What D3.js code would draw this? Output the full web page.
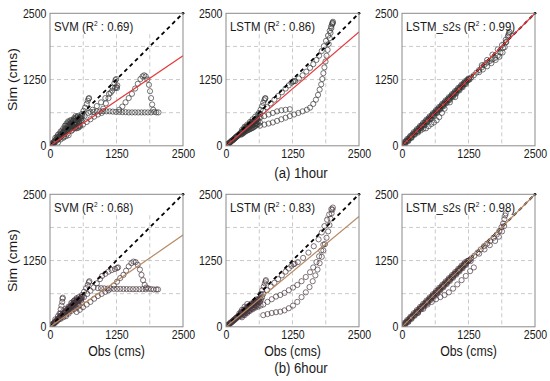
<!DOCTYPE html>
<html>
<head>
<meta charset="utf-8">
<script src="https://cdn.jsdelivr.net/npm/d3@7"></script>
<style>
  body { margin: 0; background: #fff; }
  svg { display: block; font-family: "Liberation Sans", Arial, sans-serif; }
</style>
</head>
<body>
<div id="chart"></div>
<script>
// obs vs sim scatter, 2 rows (1hour / 6hour) x 3 models

const modelNames = ["SVM", "LSTM", "LSTM_s2s", "SVM", "LSTM", "LSTM_s2s"];
const r2Values = ["0.69", "0.86", "0.99", "0.68", "0.83", "0.98"];
const fitEnds = [1700, 2150, 2500, 1730, 2080, 2500]; // fitted line value at obs = 2500
const tickValues = [0, 1250, 2500];
const gridValues = [625, 1250, 1875];
const rowCaptions = ["(a) 1hour", "(b) 6hour"];

// [obs, sim] pairs
const svm1h = [
  [15,10],[30,35],[45,25],[60,65],[75,50],[90,100],[105,80],[120,130],[135,105],[150,160],[165,135],[180,190],
  [195,160],[210,225],[225,190],[240,255],[255,215],[270,290],[285,245],[300,320],[315,270],[330,350],[345,295],
  [360,380],[375,320],[390,410],[405,345],[420,440],[435,370],[450,470],[470,400],[490,490],[510,420],[530,520],
  [550,450],[570,540],[590,480],[610,560],[250,330],[280,380],[310,420],[340,460],[380,480],[200,120],[260,170],
  [330,230],[400,280],[470,330],[530,340],[560,380],[520,470],[350,400],
  [20,40],[50,30],[80,70],[110,110],[140,130],[170,170],[200,200],[230,210],[260,250],[290,280],[320,300],
  [350,330],[380,360],[410,380],[440,420],[470,450],[500,480],[530,500],[560,530],[590,560],[400,440],[430,480],
  [460,500],[490,530],[520,560],[380,330],[420,350],[460,390],[500,400],[540,440],
  [100,150],[150,210],[200,270],[250,260],[300,380],[350,440],[400,480],[450,520],[480,560],[300,180],[350,200],
  [420,300],[480,350],[540,380],[150,60],[250,150],[560,500],[590,520],[520,550],[450,350],[380,420],[330,380],
  [280,320],[230,290],[180,230],[130,170],
  [600,600],[630,660],[660,720],[690,790],[710,850],[725,890],[735,900],
  [650,560],[720,620],[800,680],[880,750],[960,820],[1040,900],[1110,980],[1170,1040],[1220,1090],[1250,1110],
  [1265,1140],[1260,1090],
  [1000,700],[1050,800],[1100,900],[1140,1000],[1180,1100],[1210,1180],[1230,1240],[1245,1260],
  [1300,680],[1360,740],[1420,820],[1480,900],[1540,980],[1600,1080],[1650,1170],[1700,1260],[1740,1310],
  [1770,1330],[1800,1310],[1830,1250],[1860,1150],[1880,1030],[1900,900],[1920,780],[1940,680],[1960,640],
  [2000,630],[2040,630],
  [760,640],[820,640],[880,650],[940,650],[1000,655],[1060,650],[1120,650],[1180,645],[1240,640],[1300,640],
  [1360,635],[1420,635],[1480,630],[1540,630],[1600,630],[1660,630],[1720,630],[1780,630],[1840,630],[1900,630],
  [500,330],[560,360],[620,400],[690,450],[760,500],[830,550],[900,590],[970,620]
];
const lstm1h = [
  [15,10],[30,30],[45,35],[60,55],[75,60],[90,80],[105,90],[120,105],[135,110],[150,130],[165,140],[180,160],
  [195,165],[210,185],[225,190],[240,210],[255,220],[270,240],[285,245],[300,265],[315,270],[330,290],[345,300],
  [360,320],[375,330],[390,350],[405,355],[420,375],[435,385],[450,400],[465,410],[480,425],[500,440],[520,460],
  [540,480],[560,500],[580,520],[300,220],[340,250],[380,280],[420,300],[460,320],[500,340],[540,370],[580,400],
  [350,360],[400,400],[450,450],[500,500],[550,550],[600,590],
  [20,20],[50,45],[80,70],[110,95],[140,120],[170,145],[200,175],[230,200],[260,225],[290,255],[320,280],
  [350,310],[380,340],[410,360],[440,390],[470,415],[500,420],[530,450],[560,470],[590,500],[330,260],[370,300],
  [410,330],[450,350],[490,380],[530,400],[570,430],
  [280,210],[320,240],[360,270],[400,290],[440,310],[480,330],[520,350],[560,380],[600,410],[640,440],[300,300],
  [340,330],[380,360],[420,390],[460,430],[500,460],[540,490],[580,510],[620,540],[400,330],[450,370],[500,390],
  [550,420],[600,460],
  [620,620],[650,680],[680,750],[700,810],[720,860],[735,890],[740,900],
  [640,600],[700,660],[770,730],[840,800],[910,870],[980,940],[1050,1010],[1120,1080],[1180,1140],[1230,1190],
  [1260,1210],[1275,1220],
  [650,540],[720,560],[800,590],[880,620],[960,650],[1040,670],[1120,680],[1200,690],
  [640,380],[720,400],[800,420],[880,440],[960,470],[1040,500],[1120,530],[1200,560],[1280,590],[1360,620],
  [1440,650],[1520,680],[1580,720],[1640,790],[1690,870],[1730,960],[1760,1060],[1790,1160],[1810,1260],
  [1830,1370],[1850,1480],[1870,1590],[1890,1700],[1910,1810],[1930,1920],[1950,2030],[1965,2130],[1980,2220],
  [1995,2290],[2005,2320],[2010,2340],
  [1300,1220],[1370,1270],[1440,1330],[1510,1400],[1580,1470],[1640,1540],[1700,1620],[1750,1700],[1800,1790],
  [1840,1880],[1880,1980],[1920,2080],[1950,2170],[1975,2250],[2000,2310]
];
const s2s1h = [
  [10,10],[40,35],[70,75],[100,95],[130,135],[160,155],[190,195],[220,215],[250,255],[280,275],[310,315],
  [340,335],[370,375],[400,390],[430,435],[460,450],[490,495],[520,510],[550,555],[580,570],[610,615],[640,630],
  [670,675],[700,690],[730,735],[760,750],[790,795],[820,810],[850,855],[880,870],[910,915],[940,930],[970,975],
  [1000,990],[1030,1035],[1060,1050],[1090,1095],[1120,1110],[1150,1155],[1180,1170],[1210,1215],[1240,1235],
  [1260,1260],[1270,1250],
  [25,40],[55,45],[85,100],[115,105],[145,165],[175,160],[205,225],[235,225],[265,285],[295,280],[325,345],
  [355,350],[385,405],[415,400],[445,465],[475,470],[505,525],[535,520],[565,585],[595,590],[625,645],[655,650],
  [685,705],[715,710],[745,765],[775,770],[805,825],[835,830],[865,885],[895,890],[925,945],[955,950],[985,1005],
  [1015,1010],[1045,1065],[1075,1070],[1105,1125],[1135,1130],[1165,1185],[1195,1190],[1225,1245],[1250,1270],
  [60,30],[120,90],[180,150],[240,210],[300,270],[360,330],[420,385],[480,445],[540,505],[600,565],[660,625],
  [720,685],[780,745],[840,805],[900,865],[960,925],[1020,985],[1080,1045],[1140,1105],[1200,1165],
  [40,70],[100,130],[160,190],[220,255],[280,315],[340,375],[400,435],[460,495],[520,555],[580,615],[640,675],
  [700,735],[760,795],[820,855],[880,915],[940,975],[1000,1035],[1060,1095],[1120,1155],[1180,1215],
  [300,250],[350,290],[400,320],[450,330],[500,370],[550,410],[600,440],[650,480],[700,540],[750,620],[800,700],
  [900,820],[1000,920],
  [1300,1290],[1350,1330],[1400,1380],[1450,1430],[1500,1480],[1550,1530],[1600,1570],[1650,1600],[1700,1630],
  [1750,1660],[1800,1700],[1850,1760],[1900,1850],[1950,1950],[1990,2060],[2010,2120],[2020,2150],
  [1450,1390],[1520,1440],[1600,1500],[1680,1560],[1760,1620],[1830,1680],[1890,1760],[1930,1860],[1960,1960],
  [1500,1520],[1600,1620],[1700,1720],[1800,1820],[1880,1900],[1950,2000],[2000,2090]
];
const svm6h = [
  [15,10],[30,35],[45,30],[60,60],[75,55],[90,90],[105,85],[120,120],[135,110],[150,150],[165,140],[180,180],
  [195,170],[210,210],[225,200],[240,240],[255,230],[270,270],[285,260],[300,300],[315,290],[330,330],[345,320],
  [360,360],[375,350],[390,390],[405,380],[420,420],[435,410],[450,450],[470,440],[490,480],[510,470],[530,510],
  [550,500],[570,540],[590,530],[610,570],[180,250],[200,330],[215,400],[230,470],[235,530],[240,550],[300,200],
  [350,250],[400,300],[450,330],[500,360],[550,400],[600,450],
  [20,40],[50,35],[80,80],[110,100],[140,140],[170,160],[200,210],[230,220],[260,260],[290,280],[320,320],
  [350,340],[380,380],[410,400],[440,440],[470,460],[500,500],[530,490],[560,530],[590,560],[420,460],[460,500],
  [500,540],[380,320],[430,360],[480,400],[530,430],
  [100,140],[150,200],[200,250],[250,290],[300,340],[350,380],[400,450],[450,490],[500,520],[540,560],[580,500],
  [300,230],[350,280],[400,330],[450,380],[500,420],[200,150],[250,180],
  [600,600],[640,660],[680,730],[710,790],[730,840],[740,860],
  [640,560],[700,620],[760,680],[820,740],[880,820],[940,900],[980,960],[1040,1000],[1100,1040],[1160,1070],
  [1220,1090],[1260,1110],[1280,1120],
  [1140,720],[1200,780],[1260,850],[1320,920],[1380,980],[1430,1060],[1480,1140],[1530,1200],[1570,1230],
  [1610,1220],[1650,1170],[1690,1080],[1720,980],[1750,880],[1780,790],[1810,740],[1850,720],[1900,710],
  [1950,705],[2000,705],[2030,705],
  [900,730],[960,730],[1020,725],[1080,720],[1200,715],[1260,715],[1320,715],[1380,712],[1440,712],[1500,710],
  [1560,710],[1620,710],[1680,710],[1740,710],[1800,708],
  [500,280],[560,320],[620,370],[690,420],[760,470],[830,530],[900,580],[970,620],[1040,660],[1100,690]
];
const lstm6h = [
  [15,10],[30,30],[45,30],[60,55],[75,55],[90,80],[105,85],[120,105],[135,110],[150,130],[165,135],[180,160],
  [195,160],[210,185],[225,185],[240,210],[255,210],[270,240],[285,235],[300,265],[315,260],[330,290],[345,285],
  [360,320],[375,310],[390,350],[405,335],[420,375],[435,360],[450,400],[465,385],[480,425],[500,410],[520,450],
  [540,430],[560,480],[580,460],[600,510],[620,490],[640,540],[660,520],[680,560],[300,180],[350,220],[400,260],
  [450,300],[500,330],[550,360],[600,380],[650,400],[250,250],[300,320],[350,380],[400,430],
  [20,25],[50,40],[80,75],[110,90],[140,125],[170,145],[200,175],[230,200],[260,225],[290,250],[320,275],
  [350,300],[380,330],[410,355],[440,380],[470,405],[500,430],[530,455],[560,470],[590,495],[620,520],[330,230],
  [380,270],[430,300],[480,340],[530,370],[580,400],
  [280,200],[320,230],[360,260],[400,290],[440,320],[480,350],[520,380],[560,410],[600,440],[640,470],[280,280],
  [330,320],[380,360],[430,400],[480,440],[530,480],[580,520],
  [650,620],[680,690],[710,760],[730,820],[745,860],[750,880],
  [700,620],[770,690],[840,760],[910,830],[980,900],[1050,970],[1120,1040],[1180,1100],[1230,1150],[1270,1180],
  [1290,1190],
  [700,220],[780,240],[860,260],[940,275],[1020,285],[1100,310],[1180,350],[1260,400],[1340,470],[1420,560],
  [1500,650],[1570,750],[1630,860],[1680,970],[1720,1080],[1760,1200],[1800,1320],[1830,1440],[1860,1560],
  [1890,1680],[1920,1800],[1945,1920],[1965,2040],[1985,2140],[2000,2210],[2008,2250],
  [700,420],[780,470],[860,520],[940,570],[1020,600],[1100,640],[1180,690],[1260,740],[1340,790],[1420,860],
  [1500,940],[1580,1030],[1640,1120],[1700,1220],[1750,1330],[1790,1440],[1830,1550],
  [1350,1220],[1450,1300],[1550,1400],[1650,1520],[1740,1650],[1800,1780],[1850,1900],[1900,2020],[1940,2120],
  [1980,2220]
];
const s2s6h = [
  [10,10],[40,40],[70,70],[100,100],[130,125],[160,160],[190,190],[220,215],[250,250],[280,280],[310,305],
  [340,340],[370,370],[400,395],[430,430],[460,460],[490,485],[520,520],[550,550],[580,575],[610,610],[640,640],
  [670,665],[700,700],[730,730],[760,755],[790,790],[820,820],[850,845],[880,880],[910,910],[940,935],[970,970],
  [1000,1000],[1030,1025],[1060,1060],[1090,1090],[1120,1115],[1150,1150],[1180,1180],[1210,1205],[1240,1240],
  [1270,1260],[1290,1240],
  [25,35],[55,50],[85,95],[115,105],[145,160],[175,165],[205,220],[235,225],[265,280],[295,285],[325,340],
  [355,345],[385,400],[415,405],[445,460],[475,465],[505,520],[535,525],[565,580],[595,585],[625,640],[655,645],
  [685,700],[715,705],[745,760],[775,765],[805,820],[835,825],[865,880],[895,885],[925,940],[955,945],[985,1000],
  [1015,1005],[1045,1060],[1075,1065],[1105,1120],[1135,1125],[1165,1180],[1195,1185],[1225,1240],[1255,1250],
  [60,30],[120,90],[180,150],[240,210],[300,270],[360,330],[420,385],[480,445],[540,505],[600,565],[660,625],
  [720,685],[780,745],[840,805],[900,865],[960,925],[1020,985],[1080,1045],[1140,1105],[1200,1165],
  [40,70],[100,130],[160,190],[220,255],[280,315],[340,375],[400,435],[460,495],[520,555],[580,615],[640,675],
  [700,735],[760,795],[820,855],[880,915],[940,975],[1000,1035],[1060,1095],[1120,1155],[1180,1215],
  [300,260],[400,340],[480,420],[560,470],[640,520],[720,560],[800,600],[880,650],[960,720],[1040,800],
  [1120,880],[1200,960],[1280,1050],[1350,1120],
  [1300,1290],[1360,1340],[1420,1400],[1480,1460],[1540,1520],[1600,1570],[1660,1620],[1720,1680],[1780,1740],
  [1830,1810],[1870,1880],[1900,1950],[1925,2030],[1940,2100],[1950,2140],
  [1450,1380],[1550,1460],[1650,1540],[1750,1620],[1820,1700],[1880,1800],[1920,1900]
];

const panelData = [svm1h, lstm1h, s2s1h, svm6h, lstm6h, s2s6h];

// layout
const W = 550, H = 381;
const panelLefts = [50, 226, 402];
const panelTops = [13.3, 194.3];
const pw = 133, ph = 132.5;
const squeeze = 0.88; // text in the figure is horizontally narrow
const fitColors = ["#e5393b", "#b68a62"];
const pointColors = ["#363636", "#42333a"];

const svg = d3.select("#chart").append("svg")
  .attr("width", W)
  .attr("height", H);

svg.append("rect").attr("width", W).attr("height", H).attr("fill", "#fff");

const x = d3.scaleLinear().domain([0, 2500]).range([0, pw]);
const y = d3.scaleLinear().domain([0, 2500]).range([ph, 0]);

panelData.forEach(function (pts, i) {
  const row = Math.floor(i / 3), col = i % 3;
  const g = svg.append("g")
    .attr("transform", "translate(" + panelLefts[col] + "," + panelTops[row] + ")");

  g.append("clipPath").attr("id", "clip" + i)
    .append("rect").attr("width", pw).attr("height", ph);

  // dashed grid
  g.selectAll(".gx").data(gridValues).enter().append("line")
    .attr("x1", d => x(d)).attr("x2", d => x(d))
    .attr("y1", 0).attr("y2", ph)
    .attr("stroke", "#bdbdbd").attr("stroke-width", 0.8).attr("stroke-dasharray", "4,3");
  g.selectAll(".gy").data(gridValues).enter().append("line")
    .attr("x1", 0).attr("x2", pw)
    .attr("y1", d => y(d)).attr("y2", d => y(d))
    .attr("stroke", "#bdbdbd").attr("stroke-width", 0.8).attr("stroke-dasharray", "4,3");

  // white strip behind the title
  g.append("rect").attr("x", 0.5).attr("y", 0.5)
    .attr("width", pw - 1).attr("height", 19).attr("fill", "#fff");

  const plot = g.append("g").attr("clip-path", "url(#clip" + i + ")");

  plot.selectAll("circle").data(pts).enter().append("circle")
    .attr("cx", d => x(d[0]))
    .attr("cy", d => y(d[1]))
    .attr("r", 2.6)
    .attr("fill", "none")
    .attr("stroke", pointColors[row])
    .attr("stroke-width", 0.85)
    .attr("stroke-opacity", 0.8);

  // 1:1 line
  plot.append("line")
    .attr("x1", x(0)).attr("y1", y(0))
    .attr("x2", x(2500)).attr("y2", y(2500))
    .attr("stroke", "#000").attr("stroke-width", 1.8).attr("stroke-dasharray", "4,3.5");

  // fitted line
  plot.append("line")
    .attr("x1", x(0)).attr("y1", y(0))
    .attr("x2", x(2500)).attr("y2", y(fitEnds[i]))
    .attr("stroke", fitColors[row]).attr("stroke-width", 1.2);

  g.append("circle").attr("cx", x(2500)).attr("cy", y(2500)).attr("r", 1.4).attr("fill", "#000");

  // frame
  g.append("rect").attr("width", pw).attr("height", ph)
    .attr("fill", "none").attr("stroke", "#8a8a8a").attr("stroke-width", 1);

  // axes
  const ax = g.append("g").attr("transform", "translate(0," + ph + ")")
    .call(d3.axisBottom(x).tickValues(tickValues).tickSize(0).tickPadding(4).tickFormat(d3.format("d")));
  const ay = g.append("g")
    .call(d3.axisLeft(y).tickValues(tickValues).tickSize(0).tickPadding(4).tickFormat(d3.format("d")));
  [ax, ay].forEach(function (a) {
    a.select(".domain").remove();
    a.selectAll("text")
      .attr("font-size", 12)
      .attr("font-family", "Liberation Sans, Arial, sans-serif")
      .attr("fill", "#1a1a1a")
      .attr("transform", "scale(" + squeeze + ",1)");
  });

  // title
  const t = g.append("text")
    .attr("transform", "translate(4,17.5) scale(" + squeeze + ",1)")
    .attr("font-size", 13)
    .attr("fill", "#1a1a1a");
  t.append("tspan").text(modelNames[i] + " (R");
  t.append("tspan").attr("font-size", 7.5).attr("dy", -5).text("2");
  t.append("tspan").attr("dy", 5).text(" : " + r2Values[i] + ")");

  if (col === 0) {
    svg.append("text")
      .attr("transform", "translate(17," + (panelTops[row] + ph / 2) + ") scale(" + squeeze + ",1) rotate(-90)")
      .attr("text-anchor", "middle")
      .attr("font-size", 14)
      .attr("fill", "#1a1a1a")
      .text("Sim (cms)");
  }
  if (row === 1) {
    svg.append("text")
      .attr("transform", "translate(" + (panelLefts[col] + pw / 2) + ",356) scale(" + squeeze + ",1)")
      .attr("text-anchor", "middle")
      .attr("font-size", 14)
      .attr("fill", "#1a1a1a")
      .text("Obs (cms)");
  }
});

// row captions
svg.selectAll(".caption").data(rowCaptions).enter().append("text")
  .attr("transform", (d, i) => "translate(301," + (i === 0 ? 178 : 373) + ") scale(" + squeeze + ",1)")
  .attr("text-anchor", "middle")
  .attr("font-size", 15)
  .attr("fill", "#1a1a1a")
  .text(d => d);
</script>
</body>
</html>
